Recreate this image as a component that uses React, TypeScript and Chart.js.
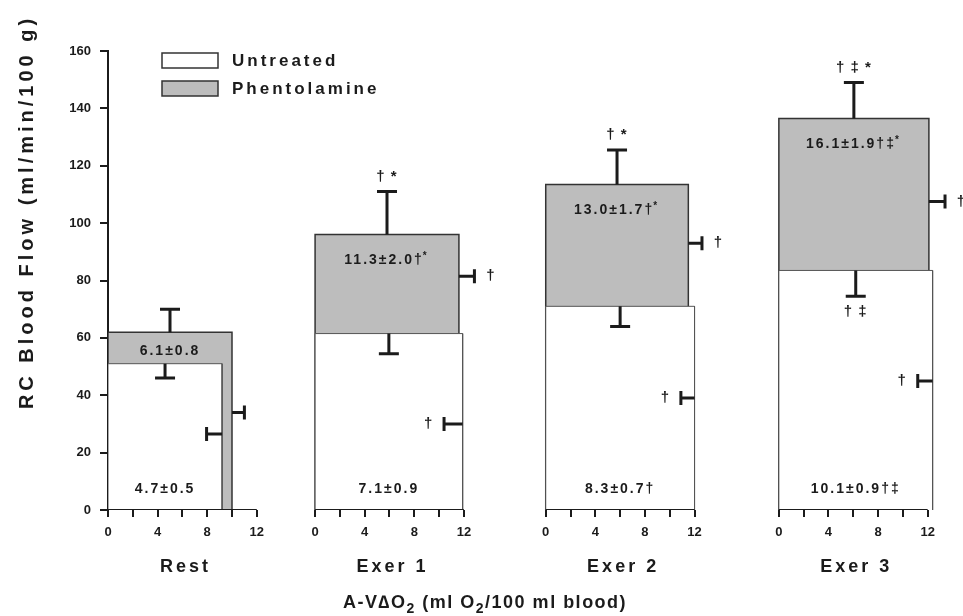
import React, { useEffect, useRef } from 'react';
import { Chart, registerables } from 'chart.js';

Chart.register(...registerables);

// ---------- data ----------
const panels = ['Rest', 'Exer 1', 'Exer 2', 'Exer 3'];
// RC blood flow (ml/min/100 g)
const untreatedFlow = [51, 61.5, 71, 83.5];
const untreatedFlowSD = [5, 7, 7, 9];
const phentolamineFlow = [62, 96, 113.5, 136.5];
const phentolamineFlowSD = [8, 15, 12, 12.5];
// A-V O2 difference (ml O2/100 ml blood)
const untreatedAV = [9.2, 11.9, 12.0, 12.4];
const untreatedAVSD = [1.25, 1.5, 1.1, 1.2];
const phentolamineAV = [10.0, 11.6, 11.5, 12.1];
const phentolamineAVSD = [1.0, 1.25, 1.1, 1.3];
// flow level at which the A-V error bars are drawn
const untreatedAVBarAt = [26.5, 30, 39, 45];
const phentolamineAVBarAt = [34, 81.5, 93, 107.5];
// O2 consumption labels (area of each rectangle)
const untreatedVO2 = ['4.7±0.5', '7.1±0.9', '8.3±0.7†', '10.1±0.9†‡'];
const phentolamineVO2 = ['6.1±0.8', '11.3±2.0†', '13.0±1.7†', '16.1±1.9†‡'];
const phentolamineVO2Sup = ['', '*', '*', '*'];
// significance markers
const phentolamineFlowSig = ['', '† *', '† *', '† ‡ *'];
const untreatedFlowSig = ['', '', '', '† ‡'];
const phentolamineAVSig = ['', '†', '†', '†'];
const untreatedAVSig = ['', '†', '†', '†'];
// ticks
const xTickValues = [0, 2, 4, 6, 8, 10, 12];
const xTickLabelEvery = 4;
const yMin = 0;
const yMax = 160;
const yStep = 20;

// ---------- layout ----------
const panelOffsets = [0, 16.7, 35.3, 54.1];
const X_MAX = 68.95;
const FONT = "'Liberation Sans', Arial, Helvetica, sans-serif";
const INK = '#1b1b1b';
const GRAY = '#bdbdbd';

function rectPoints(o: number, w: number, h: number) {
  return [
    { x: o, y: 0 },
    { x: o, y: h },
    { x: o + w, y: h },
    { x: o + w, y: 0 },
  ];
}

export default function App() {
  const ref = useRef<HTMLCanvasElement>(null);

  useEffect(() => {
    const canvas = ref.current!;
    const datasets: any[] = [];
    panels.forEach((_, i) => {
      const o = panelOffsets[i];
      datasets.push({
        label: 'axis',
        data: [{ x: o, y: 0 }, { x: o + 12, y: 0 }],
        borderColor: INK,
        borderWidth: 2,
        pointRadius: 0,
        fill: false,
      });
    });
    panels.forEach((_, i) => {
      datasets.push({
        label: 'Untreated',
        data: rectPoints(panelOffsets[i], untreatedAV[i], untreatedFlow[i]),
        borderColor: '#555',
        borderWidth: 1,
        backgroundColor: '#ffffff',
        fill: 'origin',
        pointRadius: 0,
        tension: 0,
      });
    });
    panels.forEach((_, i) => {
      datasets.push({
        label: 'Phentolamine',
        data: rectPoints(panelOffsets[i], phentolamineAV[i], phentolamineFlow[i]),
        borderColor: '#333',
        borderWidth: 1.5,
        backgroundColor: GRAY,
        fill: 'origin',
        pointRadius: 0,
        tension: 0,
      });
    });

    const text = (
      ctx: CanvasRenderingContext2D,
      s: string,
      x: number,
      y: number,
      size: number,
      align: CanvasTextAlign = 'center',
      spacing = 0
    ) => {
      ctx.font = `bold ${size}px ${FONT}`;
      (ctx as any).letterSpacing = `${spacing}px`;
      ctx.textAlign = align;
      ctx.textBaseline = 'middle';
      ctx.fillStyle = INK;
      ctx.fillText(s, x, y);
    };

    const overlay = {
      id: 'overlay',
      afterDatasetsDraw(chart: any) {
        const { ctx, scales } = chart;
        const xs = scales.x;
        const ys = scales.y;
        const px = (v: number) => xs.getPixelForValue(v);
        const py = (v: number) => ys.getPixelForValue(v);
        ctx.save();
        ctx.strokeStyle = INK;
        ctx.lineWidth = 3;
        ctx.lineCap = 'butt';
        const vbar = (xv: number, from: number, to: number) => {
          const X = px(xv);
          ctx.beginPath();
          ctx.moveTo(X, py(from));
          ctx.lineTo(X, py(to));
          ctx.moveTo(X - 10, py(to));
          ctx.lineTo(X + 10, py(to));
          ctx.stroke();
        };
        const hbar = (yv: number, from: number, to: number) => {
          const Y = py(yv);
          ctx.beginPath();
          ctx.moveTo(px(from), Y);
          ctx.lineTo(px(to), Y);
          ctx.moveTo(px(to), Y - 7);
          ctx.lineTo(px(to), Y + 7);
          ctx.stroke();
        };
        panels.forEach((_, i) => {
          const o = panelOffsets[i];
          // flow error bars
          const pTop = phentolamineFlow[i] + phentolamineFlowSD[i];
          vbar(o + phentolamineAV[i] / 2, phentolamineFlow[i], pTop);
          const uBot = untreatedFlow[i] - untreatedFlowSD[i];
          vbar(o + untreatedAV[i] / 2, untreatedFlow[i], uBot);
          // A-V error bars
          const pRight = o + phentolamineAV[i] + phentolamineAVSD[i];
          hbar(phentolamineAVBarAt[i], o + phentolamineAV[i], pRight);
          const uLeft = o + untreatedAV[i] - untreatedAVSD[i];
          hbar(untreatedAVBarAt[i], o + untreatedAV[i], uLeft);

          // significance markers
          if (phentolamineFlowSig[i])
            text(ctx, phentolamineFlowSig[i], px(o + phentolamineAV[i] / 2), py(pTop) - 15, 15, 'center', 1);
          if (untreatedFlowSig[i])
            text(ctx, untreatedFlowSig[i], px(o + untreatedAV[i] / 2), py(uBot) + 16, 15, 'center', 1);
          if (phentolamineAVSig[i])
            text(ctx, phentolamineAVSig[i], px(pRight) + 16, py(phentolamineAVBarAt[i]), 15, 'center', 0);
          if (untreatedAVSig[i])
            text(ctx, untreatedAVSig[i], px(uLeft) - 16, py(untreatedAVBarAt[i]), 15, 'center', 0);

          // VO2 labels
          const gTop = py(phentolamineFlow[i]);
          const wTop = py(untreatedFlow[i]);
          const gy = Math.min(gTop + 26, (gTop + wTop) / 2 + 3);
          const gcx = px(o + phentolamineAV[i] / 2);
          ctx.font = `bold 14px ${FONT}`;
          (ctx as any).letterSpacing = '2px';
          const mw = ctx.measureText(phentolamineVO2[i]).width;
          ctx.font = `bold 10px ${FONT}`;
          const sw = phentolamineVO2Sup[i] ? ctx.measureText(phentolamineVO2Sup[i]).width : 0;
          const startX = gcx - (mw + sw) / 2;
          text(ctx, phentolamineVO2[i], startX, gy, 14, 'left', 2);
          if (phentolamineVO2Sup[i]) text(ctx, phentolamineVO2Sup[i], startX + mw - 1, gy - 4, 10, 'left', 0);

          text(ctx, untreatedVO2[i], px(o + untreatedAV[i] / 2), py(0) - 21, 14, 'center', 2);
        });
        ctx.restore();
      },
      afterDraw(chart: any) {
        const { ctx, scales } = chart;
        const xs = scales.x;
        ctx.save();
        // panel names
        panels.forEach((name, i) => {
          text(ctx, name, xs.getPixelForValue(panelOffsets[i] + 6) + 3, 567, 18, 'center', 3);
        });
        // y title
        ctx.save();
        ctx.translate(27, 212);
        ctx.rotate(-Math.PI / 2);
        text(ctx, 'RC Blood Flow (ml/min/100 g)', 0, 0, 20, 'center', 4);
        ctx.restore();
        // x title with subscripts
        let cx = 343;
        const parts: [string, boolean][] = [
          ['A-V∆O', false],
          ['2', true],
          [' (ml O', false],
          ['2', true],
          ['/100 ml blood)', false],
        ];
        ctx.textBaseline = 'alphabetic';
        ctx.textAlign = 'left';
        ctx.fillStyle = INK;
        parts.forEach(([s, sub]) => {
          ctx.font = `bold ${sub ? 14 : 18}px ${FONT}`;
          (ctx as any).letterSpacing = '1.5px';
          ctx.fillText(s, cx, sub ? 613 : 608);
          cx += ctx.measureText(s).width;
        });
        // legend
        ctx.lineWidth = 1.5;
        ctx.strokeStyle = '#333';
        ctx.fillStyle = '#ffffff';
        ctx.fillRect(162, 53, 56, 15);
        ctx.strokeRect(162, 53, 56, 15);
        ctx.fillStyle = GRAY;
        ctx.fillRect(162, 81, 56, 15);
        ctx.strokeRect(162, 81, 56, 15);
        text(ctx, 'Untreated', 232, 61, 17, 'left', 3);
        text(ctx, 'Phentolamine', 232, 89, 17, 'left', 3);
        ctx.restore();
      },
    };

    const chart = new Chart(canvas, {
      type: 'line',
      data: { datasets },
      options: {
        animation: false,
        responsive: false,
        devicePixelRatio: 1,
        layout: { padding: { top: 51, right: 0, left: 0, bottom: 0 } },
        plugins: {
          legend: { display: false },
          tooltip: { enabled: false },
          title: { display: false },
        },
        elements: { line: { tension: 0 } },
        scales: {
          x: {
            type: 'linear',
            min: 0,
            max: X_MAX,
            afterBuildTicks: (axis: any) => {
              axis.ticks = panelOffsets.flatMap((o) => xTickValues.map((v) => ({ value: o + v })));
            },
            afterFit: (axis: any) => {
              axis.height = 106;
            },
            ticks: {
              autoSkip: false,
              maxRotation: 0,
              padding: 8,
              color: INK,
              font: { family: FONT, size: 13, weight: 'bold' },
              callback: (value: any) => {
                for (const o of panelOffsets) {
                  const v = value - o;
                  if (v > -0.01 && v < 12.01) {
                    const r = Math.round(v);
                    return r % xTickLabelEvery === 0 ? String(r) : '';
                  }
                }
                return '';
              },
            },
            grid: { drawOnChartArea: false, drawTicks: true, tickLength: 7, color: INK, lineWidth: 2 },
            border: { display: false },
          },
          y: {
            min: yMin,
            max: yMax,
            afterFit: (axis: any) => {
              axis.width = 108;
            },
            ticks: {
              stepSize: yStep,
              padding: 9,
              color: INK,
              font: { family: FONT, size: 13, weight: 'bold' },
            },
            grid: { drawOnChartArea: false, drawTicks: true, tickLength: 8, color: INK, lineWidth: 2 },
            border: { display: true, color: INK, width: 2 },
          },
        },
      } as any,
      plugins: [overlay],
    });
    return () => chart.destroy();
  }, []);

  return (
    <div style={{ position: 'fixed', left: 0, top: 0, width: 963, height: 616, background: '#fff' }}>
      <canvas ref={ref} width={963} height={616} style={{ display: 'block' }} />
    </div>
  );
}
